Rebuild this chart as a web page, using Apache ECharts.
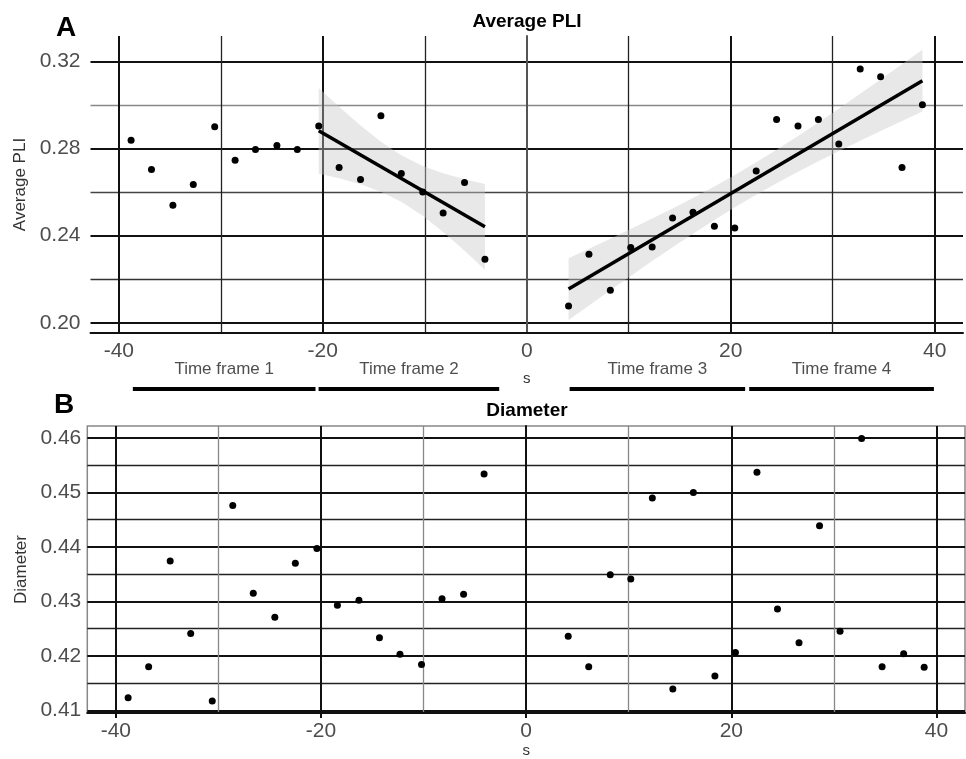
<!DOCTYPE html>
<html>
<head>
<meta charset="utf-8">
<script src="https://cdn.jsdelivr.net/npm/echarts@6/dist/echarts.min.js"></script>
<style>
  html, body { margin: 0; padding: 0; background: #fff; }
  #chart { width: 966px; height: 759px; }
</style>
</head>
<body>
<div id="chart"></div>
<script>
// time (s) of every sample, shared by both panels
const sValues = [
  -38.8, -36.8, -34.7, -32.7, -30.6, -28.6, -26.6, -24.5, -22.5,
  -20.4, -18.4, -16.3, -14.3, -12.3, -10.2, -8.2, -6.1, -4.1,
  4.1, 6.1, 8.2, 10.2, 12.3, 14.3, 16.3, 18.4, 20.4,
  22.5, 24.5, 26.6, 28.6, 30.6, 32.7, 34.7, 36.8, 38.8
];
// panel A
const pliValues = [
  0.2838, 0.2703, 0.2539, 0.2634, 0.2899, 0.2746, 0.2795, 0.2814, 0.2795,
  0.2903, 0.2713, 0.2657, 0.2950, 0.2685, 0.2600, 0.2504, 0.2644, 0.2291,
  0.2077, 0.2314, 0.2149, 0.2345, 0.2348, 0.2481, 0.2507, 0.2443, 0.2435,
  0.2696, 0.2933, 0.2903, 0.2933, 0.2820, 0.3165, 0.3129, 0.2713, 0.3000
];
// panel B
const diameterValues = [
  0.4123, 0.4180, 0.4374, 0.4241, 0.4117, 0.4476, 0.4315, 0.4271, 0.4370,
  0.4397, 0.4293, 0.4302, 0.4233, 0.4203, 0.4184, 0.4305, 0.4313, 0.4534,
  0.4236, 0.4180, 0.4349, 0.4341, 0.4490, 0.4139, 0.4500, 0.4163, 0.4206,
  0.4537, 0.4286, 0.4224, 0.4439, 0.4245, 0.4599, 0.4180, 0.4204, 0.4179
];

// ranges of the two linear fits (lm + 95% band)
const fitStart = [-20.5, 4];
const fitEnd = [-4, 39];
const fitT = [2.3646, 2.1199]; // t quantiles, df = n - 2

// time frame bars under panel A
const tfNames = ['Time frame 1', 'Time frame 2', 'Time frame 3', 'Time frame 4'];
const tfStart = [-38.6, -20.4, 4.2, 21.8];
const tfEnd = [-20.7, -2.7, 21.4, 39.9];

// tick values
const xMajor = [-40, -20, 0, 20, 40];
const xMinor = [-30, -10, 10, 30];
const pliMajor = [0.20, 0.24, 0.28, 0.32];
const pliMinor = [0.22, 0.26, 0.30];
const diaMajor = [0.41, 0.42, 0.43, 0.44, 0.45, 0.46];
const diaMinor = [0.415, 0.425, 0.435, 0.445, 0.455];

const font = 'Liberation Sans, Arial, sans-serif';
const chart = echarts.init(document.getElementById('chart'));

function linearFit(lo, hi, t) {
  const xs = [], ys = [];
  sValues.forEach(function (s, i) {
    if (s >= lo && s <= hi) { xs.push(s); ys.push(pliValues[i]); }
  });
  const n = xs.length;
  const mx = xs.reduce((a, b) => a + b, 0) / n;
  const my = ys.reduce((a, b) => a + b, 0) / n;
  let sxx = 0, sxy = 0;
  xs.forEach(function (x, i) { sxx += (x - mx) ** 2; sxy += (x - mx) * (ys[i] - my); });
  const slope = sxy / sxx;
  const icpt = my - slope * mx;
  let ss = 0;
  xs.forEach(function (x, i) { ss += (ys[i] - icpt - slope * x) ** 2; });
  const sd = Math.sqrt(ss / (n - 2));
  const band = xs.map(function (x) {
    const yh = icpt + slope * x;
    const se = sd * Math.sqrt(1 / n + (x - mx) ** 2 / sxx);
    return [x, yh - t * se, yh + t * se];
  });
  const line = [[xs[0], icpt + slope * xs[0]], [xs[n - 1], icpt + slope * xs[n - 1]]];
  return { band: band, line: line };
}

const fits = fitStart.map((s, i) => linearFit(s, fitEnd[i], fitT[i]));

function bandSeries(band) {
  return {
    type: 'custom',
    xAxisIndex: 0, yAxisIndex: 0,
    data: band,
    z: 1,
    silent: true,
    renderItem: function (params, api) {
      if (params.dataIndex !== 0) return null;
      const up = band.map(p => api.coord([p[0], p[2]]));
      const lo = band.map(p => api.coord([p[0], p[1]])).reverse();
      return {
        type: 'polygon',
        shape: { points: up.concat(lo) },
        style: { fill: 'rgba(200,200,200,0.42)' }
      };
    }
  };
}

function majorX(grid, ticks) {
  return {
    type: 'value', gridIndex: grid, min: -42.78, max: 42.78, position: 'bottom',
    axisLine: { lineStyle: { color: '#111', width: 2 } },
    axisTick: { show: ticks, length: 5, customValues: xMajor, lineStyle: { color: '#111', width: 2 } },
    axisLabel: { customValues: xMajor, fontSize: 21, fontFamily: font, color: '#4d4d4d', margin: 8 },
    splitLine: { show: true, lineStyle: { color: '#111', width: 2 } },
    name: 's', nameLocation: 'middle',
    nameTextStyle: { fontSize: 15, fontFamily: font, color: '#333' }
  };
}
function minorX(grid, color) {
  return {
    type: 'value', gridIndex: grid, min: -42.78, max: 42.78, position: 'top',
    axisLine: { show: false },
    axisTick: { show: false, customValues: xMinor },
    axisLabel: { show: false, customValues: xMinor },
    splitLine: { show: true, lineStyle: { color: color, width: 1.3 } }
  };
}

const xAxes = [majorX(0, false), minorX(0, '#222'), majorX(1, true), minorX(1, '#888'),
  { type: 'value', gridIndex: 2, min: -42.75, max: 42.75, show: false }];
xAxes[0].nameGap = 38;
xAxes[2].nameGap = 30;

const yAxes = [
  {
    type: 'value', gridIndex: 0, min: 0.1953, max: 0.3316,
    name: 'Average PLI', nameLocation: 'middle', nameGap: 60,
    nameTextStyle: { fontSize: 17, fontFamily: font, color: '#333' },
    axisLine: { show: true, lineStyle: { color: '#555', width: 2 } },
    axisTick: { show: false, customValues: pliMajor },
    axisLabel: { customValues: pliMajor, formatter: v => v.toFixed(2), fontSize: 21, fontFamily: font, color: '#4d4d4d', margin: 10 },
    splitLine: { show: true, lineStyle: { color: '#111', width: 2 } }
  },
  {
    type: 'value', gridIndex: 0, min: 0.1953, max: 0.3316, position: 'right',
    axisLine: { show: false },
    axisTick: { show: false, customValues: pliMinor },
    axisLabel: { show: false, customValues: pliMinor },
    splitLine: { show: true, lineStyle: { color: ['#333', '#444', '#888'], width: 1.3 } }
  },
  {
    type: 'value', gridIndex: 1, min: 0.4095, max: 0.4622,
    name: 'Diameter', nameLocation: 'middle', nameGap: 57,
    nameTextStyle: { fontSize: 17, fontFamily: font, color: '#333' },
    axisLine: { show: true, lineStyle: { color: '#111', width: 2 } },
    axisTick: { show: true, length: 5, customValues: diaMajor, lineStyle: { color: '#111', width: 2 } },
    axisLabel: { customValues: diaMajor, formatter: v => v.toFixed(2), fontSize: 21, fontFamily: font, color: '#4d4d4d', margin: 6 },
    splitLine: { show: true, lineStyle: { color: '#111', width: 2 } }
  },
  {
    type: 'value', gridIndex: 1, min: 0.4095, max: 0.4622, position: 'right',
    axisLine: { show: false },
    axisTick: { show: false, customValues: diaMinor },
    axisLabel: { show: false, customValues: diaMinor },
    splitLine: { show: true, lineStyle: { color: '#222', width: 1.3 } }
  },
  { type: 'value', gridIndex: 2, min: 0, max: 1, show: false }
];

const series = [];
fits.forEach(function (f) {
  series.push(bandSeries(f.band));
  series.push({
    type: 'line', xAxisIndex: 0, yAxisIndex: 0, data: f.line, z: 3,
    showSymbol: false, silent: true, lineStyle: { color: '#000', width: 3.5 }
  });
});
series.push({
  type: 'scatter', xAxisIndex: 0, yAxisIndex: 0, z: 4,
  data: sValues.map((s, i) => [s, pliValues[i]]),
  symbolSize: 7, itemStyle: { color: '#000', opacity: 1 }
});
series.push({
  type: 'scatter', xAxisIndex: 2, yAxisIndex: 2, z: 4,
  data: sValues.map((s, i) => [s, diameterValues[i]]),
  symbolSize: 7, itemStyle: { color: '#000', opacity: 1 }
});
tfNames.forEach(function (name, i) {
  series.push({
    type: 'line', xAxisIndex: 4, yAxisIndex: 4, clip: false,
    data: [[tfStart[i], 0], [tfEnd[i], 0]],
    showSymbol: false, silent: true, lineStyle: { color: '#000', width: 4 }
  });
});
series.push({
  type: 'scatter', xAxisIndex: 4, yAxisIndex: 4, symbolSize: 0, silent: true,
  data: tfNames.map((n, i) => [(tfStart[i] + tfEnd[i]) / 2, 0.5, n]),
  label: { show: true, position: 'inside', formatter: p => p.data[2], fontSize: 17, fontFamily: font, color: '#222' }
});

chart.setOption({
  animation: false,
  backgroundColor: '#fff',
  grid: [
    { left: 90.5, top: 36, width: 872.5, height: 297 },
    { left: 87.3, top: 426, width: 877.7, height: 291, show: true, borderColor: '#888', borderWidth: 1.5, backgroundColor: 'transparent' },
    { left: 90.5, top: 349, width: 872.5, height: 40 }
  ],
  xAxis: xAxes,
  yAxis: yAxes,
  graphic: [
    { type: 'text', x: 527, y: 22, style: { text: 'Average PLI', fontSize: 19, fontWeight: 'bold', fontFamily: font, fill: '#000', align: 'center', verticalAlign: 'middle' } },
    { type: 'text', x: 527, y: 411, style: { text: 'Diameter', fontSize: 19, fontWeight: 'bold', fontFamily: font, fill: '#000', align: 'center', verticalAlign: 'middle' } },
    { type: 'text', x: 66, y: 28, style: { text: 'A', fontSize: 28, fontWeight: 'bold', fontFamily: font, fill: '#000', align: 'center', verticalAlign: 'middle' } },
    { type: 'text', x: 64, y: 405, style: { text: 'B', fontSize: 28, fontWeight: 'bold', fontFamily: font, fill: '#000', align: 'center', verticalAlign: 'middle' } }
  ],
  series: series
});
</script>
</body>
</html>
